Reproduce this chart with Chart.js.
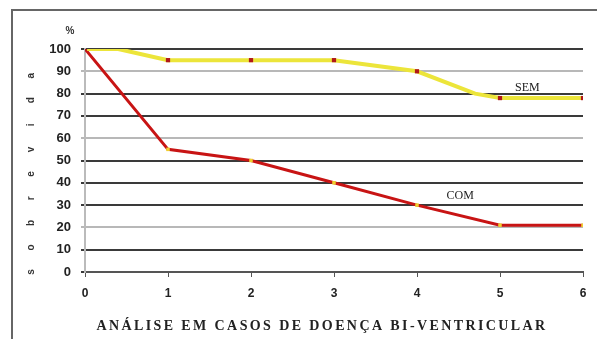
<!DOCTYPE html>
<html lang="pt">
<head>
  <meta charset="UTF-8">
  <title>Sobrevida bi-ventricular</title>
  <script src="https://cdn.jsdelivr.net/npm/chart.js@4"></script>
  <style>
    html, body { margin: 0; padding: 0; background: #fff; }
    #wrap { width: 597px; height: 339px; }
  </style>
</head>
<body>
<div id="wrap"><canvas id="grafico"></canvas></div>

<script>
  // curva "SEM"
  const semX = [0, 0.4, 1, 2, 3, 4, 4.7, 5, 6];
  const semY = [100, 100, 95, 95, 95, 90, 80, 78, 78];
  // curva "COM"
  const comX = [0, 1, 2, 3, 4, 5, 6];
  const comY = [100, 55, 50, 40, 30, 21, 21];

  const yTicks = [0, 10, 20, 30, 40, 50, 60, 70, 80, 90, 100];
  const xTicks = [0, 1, 2, 3, 4, 5, 6];
  const linhasClaras = [20, 60, 90];

  const rotulos = [
    { texto: "SEM", x: 5.33, y: 82.5 },
    { texto: "COM", x: 4.52, y: 34 }
  ];

  const tituloY = "sobrevida";
  const tituloX = "ANÁLISE EM CASOS DE DOENÇA BI-VENTRICULAR";

  const pontos = (xs, ys) => xs.map((x, i) => ({ x: x, y: ys[i] }));

  // moldura, %, letras do eixo vertical e título de baixo
  const extras = {
    id: "extras",
    beforeDraw(chart) {
      const ctx = chart.ctx;
      ctx.save();
      ctx.strokeStyle = "#666";
      ctx.lineWidth = 2;
      ctx.beginPath();
      ctx.moveTo(597, 10);
      ctx.lineTo(12, 10);
      ctx.lineTo(12, 339);
      ctx.stroke();
      ctx.restore();
    },
    afterDraw(chart) {
      const ctx = chart.ctx;
      const y = chart.scales.y;
      const x = chart.scales.x;
      ctx.save();
      ctx.fillStyle = "#333";
      ctx.font = "bold 10px 'Liberation Sans'";
      ctx.textAlign = "center";
      ctx.textBaseline = "middle";
      ctx.fillText("%", 70, 31);

      // letras espaçadas de baixo para cima
      ctx.font = "bold 10px 'Liberation Sans'";
      const topo = y.getPixelForValue(88);
      const base = y.getPixelForValue(0);
      const passo = (base - topo) / (tituloY.length - 1);
      for (let i = 0; i < tituloY.length; i++) {
        ctx.save();
        ctx.translate(31, base - i * passo);
        ctx.rotate(-Math.PI / 2);
        ctx.fillText(tituloY[i], 0, 0);
        ctx.restore();
      }

      ctx.font = "12px 'Liberation Serif'";
      ctx.fillStyle = "#222";
      rotulos.forEach(r => {
        ctx.fillText(r.texto, x.getPixelForValue(r.x), y.getPixelForValue(r.y));
      });

      ctx.font = "bold 14px 'Liberation Serif'";
      ctx.letterSpacing = "2.4px";
      ctx.fillText(tituloX, 322, 326);
      ctx.restore();
    }
  };

  new Chart(document.getElementById("grafico"), {
    type: "line",
    data: {
      datasets: [
        {
          label: "SEM",
          data: pontos(semX, semY),
          borderColor: "#ece53a",
          borderWidth: 4,
          backgroundColor: "#b01818",
          pointBackgroundColor: "#b01818",
          pointBorderWidth: 0,
          pointStyle: "rect",
          pointRadius: ctx => Number.isInteger(ctx.raw.x) ? 3 : 0,
          tension: 0
        },
        {
          label: "COM",
          data: pontos(comX, comY),
          borderColor: "#c81414",
          borderWidth: 3,
          backgroundColor: "#f0d030",
          pointBackgroundColor: "#f0d030",
          pointBorderWidth: 0,
          pointStyle: "rect",
          pointRadius: 2.5,
          tension: 0
        }
      ]
    },
    options: {
      responsive: true,
      maintainAspectRatio: false,
      animation: false,
      layout: { padding: { top: 49, right: 14, left: 0, bottom: 0 } },
      plugins: {
        legend: { display: false },
        tooltip: { enabled: false }
      },
      scales: {
        x: {
          type: "linear",
          min: 0,
          max: 6,
          afterBuildTicks: s => { s.ticks = xTicks.map(v => ({ value: v })); },
          afterFit: s => { s.height = 67; },
          grid: { display: true, drawOnChartArea: false, tickLength: 5, color: "#555" },
          border: { color: "#555", width: 2 },
          ticks: {
            color: "#222",
            padding: 9,
            font: { family: "'Liberation Sans'", size: 12, weight: "bold" }
          }
        },
        y: {
          min: 0,
          max: 100,
          afterBuildTicks: s => { s.ticks = yTicks.map(v => ({ value: v })); },
          afterFit: s => { s.width = 85; },
          grid: {
            tickLength: 4,
            lineWidth: 2,
            color: ctx => linhasClaras.includes(ctx.tick.value) ? "#b8b8b8" : "#3a3a3a"
          },
          border: { color: "#bbb", width: 2 },
          ticks: {
            color: "#222",
            padding: 10,
            font: { family: "'Liberation Sans'", size: 13, weight: "bold" }
          }
        }
      }
    },
    plugins: [extras]
  });
</script>
</body>
</html>
